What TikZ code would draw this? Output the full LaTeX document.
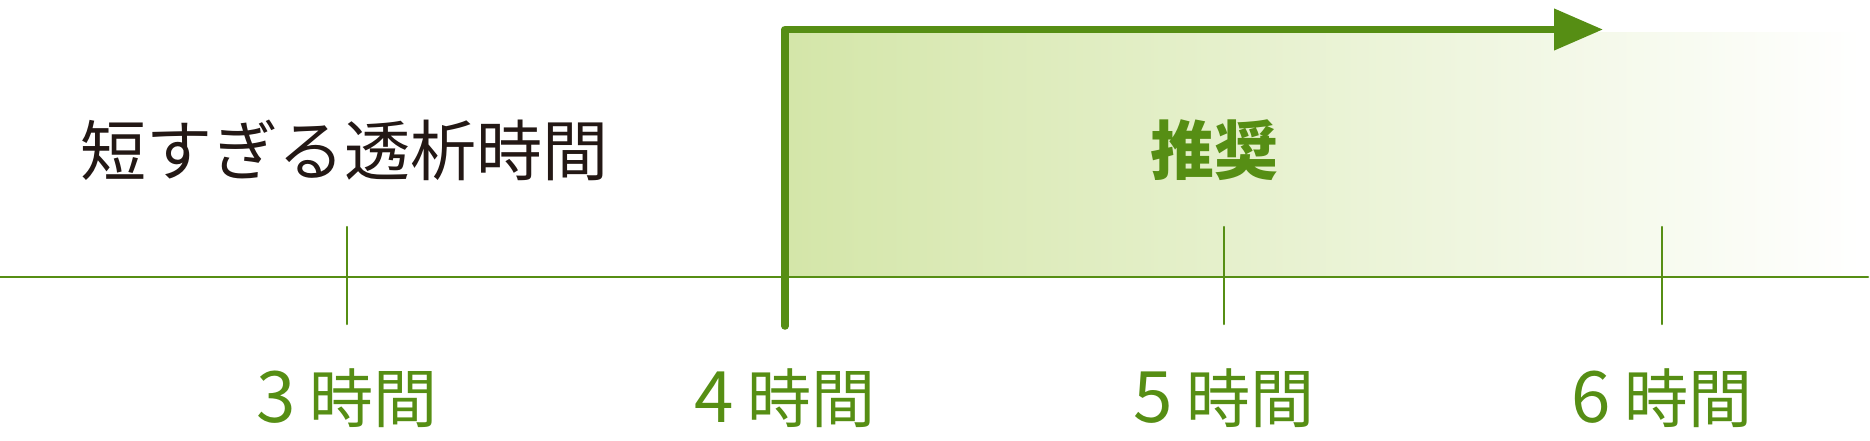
\documentclass[tikz,border=0pt]{standalone}
\usepackage{fontspec}
\newfontfamily\jp{Noto Sans CJK JP}
\usetikzlibrary{arrows.meta}
\definecolor{leaf}{HTML}{568E14}
\definecolor{ink}{HTML}{231815}
\definecolor{paleleaf}{HTML}{D4E6A9}
\newcommand{\dig}[1]{{\fontsize{71}{64}\selectfont #1}}
\tikzset{
  axisline/.style={draw=leaf, line width=2.5pt, line cap=round},
  tickline/.style={draw=leaf, line width=2.5pt, line cap=round},
  rangeline/.style={draw=leaf, line width=7.5pt, line cap=round, line join=round,
    -{Triangle[length=49pt,width=40pt]}},
  ticklabel/.style={text=leaf, font=\jp\fontsize{64}{64}\selectfont, anchor=base, inner sep=0pt},
  headlabel/.style={font=\jp\fontsize{66}{66}\selectfont, anchor=base west, inner sep=0pt},
}
\begin{document}
\begin{tikzpicture}[x=1pt,y=-1pt]
\useasboundingbox (0,0) rectangle (1870,441);
% gradient band
\shade[left color=paleleaf, right color=white] (789,33) rectangle (1862,277);
% axis
\coordinate (axL) at (0,277);
\coordinate (axR) at (1868,277);
\draw[axisline] (axL) -- (axR);
% thin ticks
\coordinate (t3a) at (347,227); \coordinate (t3b) at (347,324);
\coordinate (t5a) at (1224,227); \coordinate (t5b) at (1224,324);
\coordinate (t6a) at (1662,227); \coordinate (t6b) at (1662,324);
\draw[tickline] (t3a) -- (t3b);
\draw[tickline] (t5a) -- (t5b);
\draw[tickline] (t6a) -- (t6b);
% range bracket arrow
\coordinate (r0) at (785,326);
\coordinate (r1) at (785,29.5);
\coordinate (r2) at (1603,29.5);
\draw[rangeline] (r0) -- (r1) -- (r2);
% labels
\node[headlabel, text=ink] (short) at (80,175) {短すぎる透析時間};
\node[ticklabel, font=\jp\bfseries\fontsize{64}{64}\selectfont] (rec) at (1214,174) {推奨};
\node[ticklabel] (l3) at (347,422) {\dig{3} 時間};
\node[ticklabel] (l4) at (785,422) {\dig{4} 時間};
\node[ticklabel] (l5) at (1224,422) {\dig{5} 時間};
\node[ticklabel] (l6) at (1662,422) {\dig{6} 時間};
\end{tikzpicture}
\end{document}
